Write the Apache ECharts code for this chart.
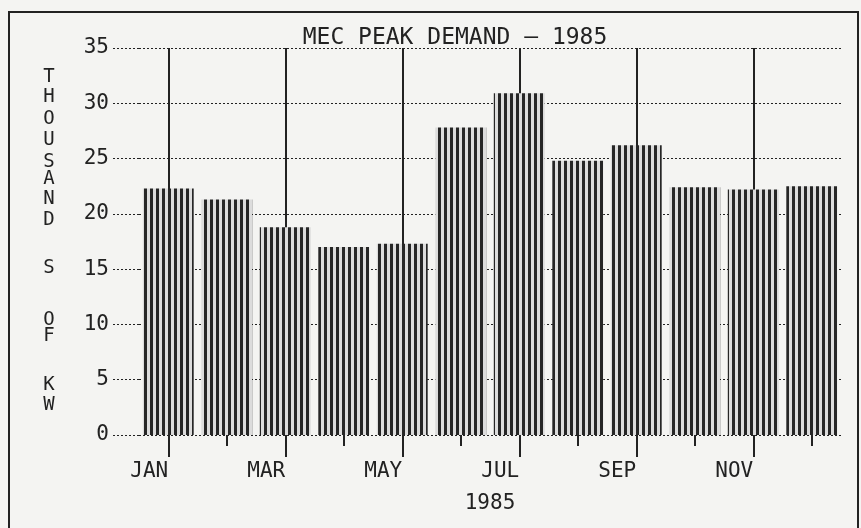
<!DOCTYPE html>
<html><head><meta charset="utf-8">
<script src="https://cdn.jsdelivr.net/npm/echarts@6/dist/echarts.min.js"></script>
<style>html,body{margin:0;padding:0;background:#f4f4f2}#c{width:861px;height:528px}</style>
</head><body><div id="c"></div>
<script>
// ---- data ----
const months = ['JAN','FEB','MAR','APR','MAY','JUN','JUL','AUG','SEP','OCT','NOV','DEC'];
const peakDemand = [22.3, 21.3, 18.8, 17.0, 17.3, 27.8, 30.9, 24.8, 26.2, 22.4, 22.2, 22.5];
const yTicks = [0, 5, 10, 15, 20, 25, 30, 35];
const titleText = 'MEC PEAK DEMAND \u2014 1985';
const yAxisName = 'THOUSANDS OF KW';
const xAxisName = '1985';

// ---- style ----
const F = 'DejaVu Sans Mono';
const INK = '#222';
const pc = document.createElement('canvas');
pc.width = 6; pc.height = 4;
const g = pc.getContext('2d');
g.fillStyle = '#dcdcdc'; g.fillRect(0, 0, 6, 4);
g.fillStyle = '#262626'; g.fillRect(0, 0, 3, 4);

// vertical stacked y-axis name letters (layout)
const letterY = [77, 97, 119, 140, 162, 179, 199, 220, 268, 320, 336, 385, 405];
const letters = yAxisName.replace(/ /g, '').split('');
const letterEls = letters.map((ch, i) => ({
  type: 'text', x: 49, y: letterY[i],
  style: { text: ch, fontFamily: F, fontSize: 19, fill: INK, align: 'center', verticalAlign: 'middle' }
}));

const chart = echarts.init(document.getElementById('c'));
const catAxisBase = { type: 'category', data: months, axisLine: { show: false }, splitLine: { show: false } };
chart.setOption({
  backgroundColor: '#f4f4f2',
  animation: false,
  title: {
    text: titleText, left: 450, top: 22, textAlign: 'center',
    textStyle: { fontFamily: F, fontSize: 23, fontWeight: 'normal', color: INK }
  },
  grid: { left: 139, right: 20, top: 48, bottom: 93 },
  xAxis: [
    Object.assign({}, catAxisBase, {
      position: 'bottom',
      axisTick: { show: true, alignWithLabel: true, interval: 0, length: 11, lineStyle: { color: INK, width: 2 } },
      axisLabel: { interval: 1, align: 'right', margin: 26, fontFamily: F, fontSize: 21, color: INK },
      name: xAxisName, nameLocation: 'middle', nameGap: 58,
      nameTextStyle: { fontFamily: F, fontSize: 21, color: INK }
    }),
    Object.assign({}, catAxisBase, {
      position: 'bottom',
      axisTick: { show: true, alignWithLabel: true, interval: 1, length: 22, lineStyle: { color: INK, width: 2 } },
      axisLabel: { show: false }
    }),
    Object.assign({}, catAxisBase, {
      position: 'top',
      axisTick: { show: true, inside: true, alignWithLabel: true, interval: 1, length: 387, lineStyle: { color: INK, width: 2 } },
      axisLabel: { show: false }
    })
  ],
  yAxis: {
    type: 'value', min: yTicks[0], max: yTicks[yTicks.length - 1], interval: yTicks[1] - yTicks[0],
    axisLine: { show: false },
    axisTick: { show: true, length: 27, lineStyle: { color: INK, width: 1, type: [2, 2] } },
    axisLabel: { margin: 30, fontFamily: F, fontSize: 21, color: INK },
    splitLine: { show: true, lineStyle: { color: INK, width: 1, type: [2, 2] } }
  },
  series: [{
    type: 'bar', xAxisIndex: 0, data: peakDemand, barCategoryGap: '13%',
    itemStyle: { color: { image: pc, repeat: 'repeat' } }
  }],
  graphic: [
    { type: 'rect', shape: { x: 9, y: 12, width: 849, height: 530 }, style: { fill: 'none', stroke: INK, lineWidth: 2 } }
  ].concat(letterEls)
});
</script>
</body></html>
